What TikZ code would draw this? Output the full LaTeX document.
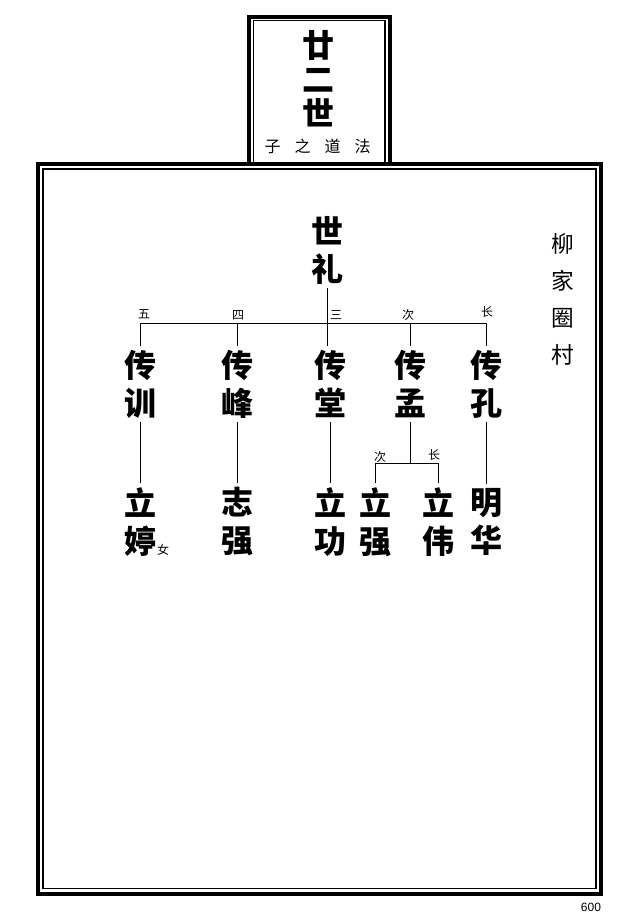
\documentclass[tikz,border=0pt]{standalone}
\usepackage{fontspec}
\usepackage{tikz}
\newfontfamily\cjk{Noto Sans CJK SC}
\setsansfont{Liberation Sans}

\begin{document}
\begin{tikzpicture}[x=0.75pt, y=-0.75pt,
    big/.style={font=\cjk\bfseries\fontsize{24}{28.5}\selectfont, align=center, inner sep=0pt, inner ysep=3pt},
    tag/.style={font=\cjk\fontsize{9}{9}\selectfont, inner sep=0pt},
    frame/.style={line width=3pt},
    rule/.style={line width=1pt},
    link/.style={line width=0.75pt}]
        \useasboundingbox (0,0) rectangle (640,918);
        % frames
        \draw[frame] (249,164) -- (249,17) -- (390,17) -- (390,164);
        \draw[rule] (253.5,164) -- (253.5,20.5) -- (385,20.5) -- (385,164);
        \draw[frame] (38,164) rectangle (601,894);
        \draw[rule] (43,169) rectangle (596,888.5);
        % title
        \node[font=\cjk\bfseries\fontsize{24}{25.5}\selectfont, align=center, inner sep=0pt] (title) at (318,79) {廿\\二\\世};
        \node[font=\cjk\fontsize{12}{12}\selectfont, inner sep=0pt] (branch) at (317.5,146) {子\hspace{10.5pt}之\hspace{10.5pt}道\hspace{10.5pt}法};
        \node[font=\cjk\fontsize{17}{27.75}\selectfont, align=center, inner sep=0pt] (village) at (563,299.5) {柳\\家\\圈\\村};
        \node[font=\sffamily\fontsize{9}{9}\selectfont, inner sep=0pt] (page) at (591,907) {600};
        % tree
        \node[big] (shili) at (327.5,250) {世\\礼};
        \node[big] (chuanxun) at (140,384) {传\\训};
        \node[big] (chuanfeng) at (237,384) {传\\峰};
        \node[big] (chuantang) at (330,384) {传\\堂};
        \node[big] (chuanmeng) at (410,384) {传\\孟};
        \node[big] (chuankong) at (486,384) {传\\孔};
        \node[big] (liting) at (140,522) {立\\婷};
        \node[big] (zhiqiang) at (237,522) {志\\强};
        \node[big] (ligong) at (330,522) {立\\功};
        \node[big] (liqiang) at (375,522) {立\\强};
        \node[big] (liwei) at (438,522) {立\\伟};
        \node[big] (minghua) at (486,522) {明\\华};
        \node[tag] (wu) at (144,314) {五};
        \node[tag] (si) at (238,315) {四};
        \node[tag] (san) at (336,315) {三};
        \node[tag] (ci) at (408,315) {次};
        \node[tag] (zhang) at (487,312) {长};
        \node[tag] (ci2) at (380,457) {次};
        \node[tag] (zhang2) at (434,455) {长};
        \node[tag] (nv) at (163,550) {女};
        \coordinate (barleft) at (140,323);
        \coordinate (barright) at (486,323);
        \coordinate (fork) at (410,463);
        \draw[link] (barleft) -- (barright);
        \draw[link] (shili.south) -- (shili.south |- chuantang.north);
        \draw[link] (chuanxun.north |- barleft) -- (chuanxun.north);
        \draw[link] (chuanfeng.north |- barleft) -- (chuanfeng.north);
        \draw[link] (chuanmeng.north |- barleft) -- (chuanmeng.north);
        \draw[link] (chuankong.north |- barleft) -- (chuankong.north);
        \draw[link] (chuanxun.south) -- (liting.north);
        \draw[link] (chuanfeng.south) -- (zhiqiang.north);
        \draw[link] (chuantang.south) -- (ligong.north);
        \draw[link] (chuankong.south) -- (minghua.north);
        \draw[link] (chuanmeng.south) -- (fork);
        \draw[link] (liqiang.north |- fork) -- (liwei.north |- fork);
        \draw[link] (liqiang.north |- fork) -- (liqiang.north);
        \draw[link] (liwei.north |- fork) -- (liwei.north);
\end{tikzpicture}
\end{document}
